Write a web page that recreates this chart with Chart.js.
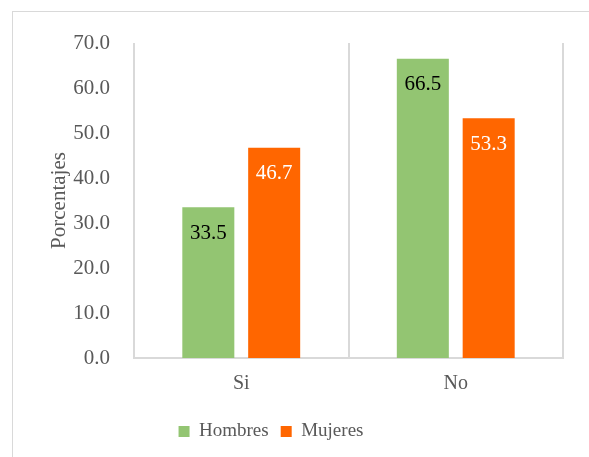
<!DOCTYPE html>
<html>
<head>
<meta charset="utf-8">
<script src="https://cdn.jsdelivr.net/npm/chart.js@4/dist/chart.umd.min.js"></script>
<style>
  html, body { margin: 0; padding: 0; background: #fff; }
  #wrap { position: relative; width: 589px; height: 457px; overflow: hidden; }
  #frame { position: absolute; left: 12px; top: 11px; width: 600px; height: 460px; border: 1px solid #d9d9d9; }
  #chart { position: absolute; left: 0; top: 0; }
</style>
</head>
<body>
<div id="wrap">
  <div id="frame"></div>
  <canvas id="chart" width="589" height="457"></canvas>
</div>
<script>
const categories = ["Si", "No"];
const hombres = [33.5, 66.5];
const mujeres = [46.7, 53.3];

const serif = "'Liberation Serif', 'Times New Roman', serif";

// value labels drawn just inside the top of each bar
const barLabels = {
  id: 'barLabels',
  afterDatasetsDraw(chart) {
    const ctx = chart.ctx;
    ctx.save();
    ctx.font = "21px " + serif;
    ctx.textAlign = 'center';
    ctx.textBaseline = 'middle';
    chart.data.datasets.forEach((ds, i) => {
      chart.getDatasetMeta(i).data.forEach((bar, j) => {
        ctx.fillStyle = ds.labelColor;
        ctx.fillText(ds.data[j].toFixed(1), bar.x, bar.y + 26);
      });
    });
    ctx.restore();
  }
};

// nudge the legend a bit to the left of the chart centre
const legendShift = {
  id: 'legendShift',
  afterLayout(chart) {
    const lg = chart.legend;
    lg.left -= 34;
    lg.right -= 34;
  }
};

new Chart(document.getElementById("chart"), {
  type: 'bar',
  data: {
    labels: categories,
    datasets: [{
      label: "Hombres",
      data: hombres,
      backgroundColor: "#93c572",
      labelColor: "#000000",
      categoryPercentage: 0.614,
      barPercentage: 0.79
    }, {
      label: "Mujeres",
      data: mujeres,
      backgroundColor: "#ff6600",
      labelColor: "#ffffff",
      categoryPercentage: 0.614,
      barPercentage: 0.79
    }]
  },
  options: {
    responsive: false,
    animation: false,
    layout: { padding: { top: 43, right: 26, bottom: 6, left: 47 } },
    scales: {
      x: {
        grid: { display: true, offset: true, color: "#d9d9d9", lineWidth: 2, drawTicks: false },
        border: { color: "#d9d9d9", width: 2 },
        ticks: { color: "#595959", font: { family: serif, size: 20 }, padding: 14 },
        afterFit(scale) { scale.height = 52; }
      },
      y: {
        min: 0,
        max: 70,
        grid: { display: false },
        border: { display: false },
        ticks: {
          stepSize: 10,
          color: "#595959",
          font: { family: serif, size: 21 },
          padding: 16,
          callback: v => v.toFixed(1)
        },
        title: {
          display: true,
          text: "Porcentajes",
          color: "#595959",
          font: { family: serif, size: 21 },
          padding: 0
        },
        afterFit(scale) { scale.width = 87; }
      }
    },
    plugins: {
      legend: {
        position: 'bottom',
        labels: {
          color: "#595959",
          font: { family: serif, size: 19 },
          boxWidth: 11,
          boxHeight: 11,
          padding: 12
        }
      },
      tooltip: { enabled: false }
    }
  },
  plugins: [barLabels, legendShift]
});
</script>
</body>
</html>
